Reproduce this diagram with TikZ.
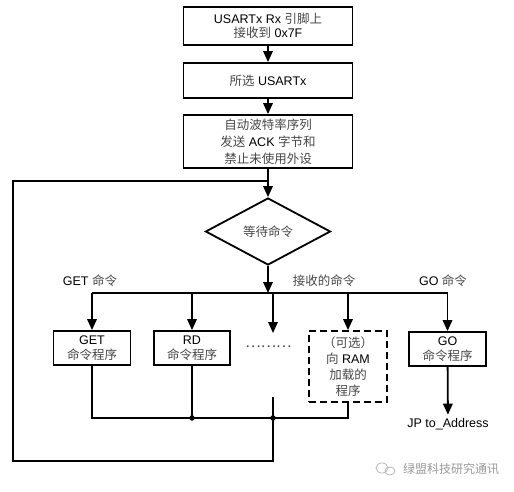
\documentclass[tikz,border=0pt]{standalone}
\usepackage{fontspec}
\setmainfont{Liberation Sans}
\newfontfamily\cjk{Noto Sans CJK SC}
\usetikzlibrary{shapes.geometric,arrows.meta}
\newcommand{\zh}[1]{{\cjk\color{black!72}#1}}
\begin{document}
\begin{tikzpicture}[x=1pt,y=-1pt,
  lw/.style={line width=1.8pt},
  box/.style={draw,lw,align=center,inner sep=0pt,font=\fontsize{12.5}{14.5}\selectfont},
  conn/.style={lw},
  arr/.style={lw,-{Triangle[length=11pt,width=9.5pt]}},
  lbl/.style={font=\fontsize{12.5}{14}\selectfont},
  jdot/.style={circle,fill,inner sep=0pt,minimum size=5.5pt}]
\useasboundingbox (0,0) rectangle (514,492);
% top boxes
\node[box,minimum width=169pt,minimum height=38pt] (b1) at (268,26) {USARTx Rx \zh{引脚上}\\\zh{接收到} 0x7F};
\node[box,minimum width=169pt,minimum height=35pt] (b2) at (268,80.5) {\zh{所选} USARTx};
\node[box,minimum width=169pt,minimum height=53pt,font=\fontsize{12.5}{17}\selectfont] (b3) at (268,141.5) {\zh{自动波特率序列}\\\zh{发送} ACK \zh{字节和}\\\zh{禁止未使用外设}};
\node[draw,lw,diamond,inner sep=0pt,minimum width=125pt,minimum height=67pt,font=\fontsize{12.5}{14}\selectfont] (d) at (268,231.5) {\zh{等待命令}};
\draw[arr] (b1) -- (b2);
\draw[arr] (b2) -- (b3);
\draw[arr] (b3) -- (d);
% labels
\node[lbl] (lget) at (90,281) {GET \zh{命令}};
\node[lbl] (lrecv) at (324,281) {\zh{接收的命令}};
\node[lbl] (lgo) at (443,281) {GO \zh{命令}};
% command boxes
\node[box,minimum width=77pt,minimum height=34pt] (get) at (92,348) {GET\\\zh{命令程序}};
\node[box,minimum width=76pt,minimum height=34pt] (rd) at (192,348) {RD\\\zh{命令程序}};
\node[box,dash pattern=on 7pt off 4pt,minimum width=78pt,minimum height=71pt,font=\fontsize{12.5}{16}\selectfont] (ram) at (348,366.5) {\zh{（可选）}\\\zh{向} RAM\\\zh{加载的}\\\zh{程序}};
\node[box,minimum width=77pt,minimum height=34pt] (go) at (447.5,349) {GO\\\zh{命令程序}};
\node[lbl,inner sep=0pt,text=black!70] (dots) at (268.5,347) {\cjk\fontsize{14.5}{14}\selectfont ………};
\node[lbl] (jp) at (448,424) {JP to\_Address};
% distribution
\coordinate (j) at (268,293);
\coordinate (jl) at (92,293);
\coordinate (jr) at (447.5,293);
\coordinate (m) at (273,333);
\draw[arr] (d) -- (j);
\draw[conn] (jl) -- (jr);
\draw[arr] (jl) -- (get);
\draw[arr] (rd.north |- j) -- (rd);
\draw[arr] (m |- j) -- (m);
\draw[arr] (ram.north |- j) -- (ram);
\draw[arr] (jr) -- (go);
\draw[arr] (go) -- (jp);
% return path
\coordinate (mb) at (273,418);
\coordinate (mt) at (273,397);
\coordinate (lb) at (273,461);
\coordinate (lt) at (13,181);
\coordinate (loopin) at (268,181);
\draw[conn] (get.south) |- (mb) -| (ram.south);
\draw[conn] (rd.south) -- (rd.south |- mb);
\draw[conn] (mt) -- (lb) -| (lt) -- (loopin);
\node[jdot] (dot1) at (rd.south |- mb) {};
\node[jdot] (dot2) at (mb) {};
% watermark
\draw[black!28,line width=0.8pt] (382,468) ellipse (6pt and 5pt);
\draw[black!28,line width=0.8pt] (390,471) ellipse (5pt and 4pt);
\node[text=black!40,font=\cjk\fontsize{12}{12}\selectfont] (wm) at (451,469) {绿盟科技研究通讯};
\end{tikzpicture}
\end{document}
